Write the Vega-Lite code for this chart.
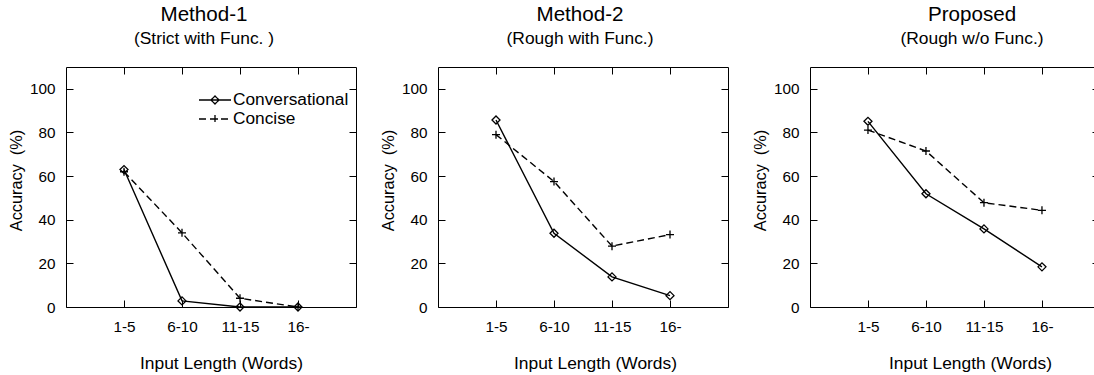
{
  "$schema": "https://vega.github.io/schema/vega-lite/v6.json",
  "background": "white",
  "padding": {"left": 7, "top": 4, "right": 0, "bottom": 0},
  "spacing": 82,
  "bounds": "flush",
  "config": {
    "font": "Liberation Sans",
    "view": {"stroke": "black", "strokeWidth": 1},
    "axis": {
      "grid": false,
      "domain": false,
      "ticks": true,
      "tickColor": "black",
      "tickWidth": 1,
      "tickSize": 7,
      "offset": -7,
      "labelFont": "Liberation Sans",
      "labelFontSize": 15.3,
      "labelColor": "black",
      "titleFont": "Liberation Sans",
      "titleFontWeight": "normal",
      "titleColor": "black"
    },
    "title": {
      "font": "Liberation Sans",
      "fontSize": 20.6,
      "fontWeight": "normal",
      "color": "black",
      "subtitleFont": "Liberation Sans",
      "subtitleFontSize": 17.4,
      "subtitleColor": "black",
      "anchor": "middle",
      "offset": 19,
      "subtitlePadding": 5
    }
  },
  "datasets": {
    "acc": [
      {"panel": "Method-1", "len": "1-5", "series": "Conversational", "acc": 63},
      {"panel": "Method-1", "len": "6-10", "series": "Conversational", "acc": 2.8},
      {"panel": "Method-1", "len": "11-15", "series": "Conversational", "acc": 0},
      {"panel": "Method-1", "len": "16-", "series": "Conversational", "acc": 0},
      {"panel": "Method-1", "len": "1-5", "series": "Concise", "acc": 62},
      {"panel": "Method-1", "len": "6-10", "series": "Concise", "acc": 34},
      {"panel": "Method-1", "len": "11-15", "series": "Concise", "acc": 4},
      {"panel": "Method-1", "len": "16-", "series": "Concise", "acc": 0},
      {"panel": "Method-2", "len": "1-5", "series": "Conversational", "acc": 85.7},
      {"panel": "Method-2", "len": "6-10", "series": "Conversational", "acc": 33.8},
      {"panel": "Method-2", "len": "11-15", "series": "Conversational", "acc": 13.8},
      {"panel": "Method-2", "len": "16-", "series": "Conversational", "acc": 5.2},
      {"panel": "Method-2", "len": "1-5", "series": "Concise", "acc": 79},
      {"panel": "Method-2", "len": "6-10", "series": "Concise", "acc": 57.5},
      {"panel": "Method-2", "len": "11-15", "series": "Concise", "acc": 27.9},
      {"panel": "Method-2", "len": "16-", "series": "Concise", "acc": 33.2},
      {"panel": "Proposed", "len": "1-5", "series": "Conversational", "acc": 85.1},
      {"panel": "Proposed", "len": "6-10", "series": "Conversational", "acc": 51.9},
      {"panel": "Proposed", "len": "11-15", "series": "Conversational", "acc": 35.8},
      {"panel": "Proposed", "len": "16-", "series": "Conversational", "acc": 18.4},
      {"panel": "Proposed", "len": "1-5", "series": "Concise", "acc": 81.1},
      {"panel": "Proposed", "len": "6-10", "series": "Concise", "acc": 71.5},
      {"panel": "Proposed", "len": "11-15", "series": "Concise", "acc": 47.8},
      {"panel": "Proposed", "len": "16-", "series": "Concise", "acc": 44.3}
    ]
  },
  "resolve": {"scale": {"shape": "independent", "strokeDash": "independent"}},
  "hconcat": [
    {
      "width": 290,
      "height": 240,
      "data": {"name": "acc"},
      "transform": [{"filter": "datum.panel === 'Method-1'"}],
      "title": {"text": "Method-1", "subtitle": "(Strict with Func. )", "dx": -7},
      "resolve": {"axis": {"x": "independent", "y": "independent"}},
      "layer": [
        {
          "transform": [{"filter": "datum.series === 'Conversational'"}],
          "mark": {"type": "line", "stroke": "black", "strokeWidth": 1.4},
          "encoding": {
            "x": {"field": "len", "type": "ordinal", "scale": {"type": "point", "domain": ["1-5", "6-10", "11-15", "16-"], "padding": 1},
                  "axis": {"orient": "bottom", "labelAngle": 0, "labelPadding": 12, "title": "Input Length (Words)", "titleFontSize": 17.4, "titlePadding": 20, "titleX": 155}},
            "y": {"field": "acc", "type": "quantitative", "scale": {"domain": [0, 110], "nice": false},
                  "axis": {"orient": "left", "values": [0, 20, 40, 60, 80, 100], "labelPadding": 11, "title": "Accuracy \u00a0(%)", "titleFontSize": 16.3, "titlePadding": 5, "titleY": 113}}
          }
        },
        {
          "transform": [{"filter": "datum.series === 'Concise'"}],
          "mark": {"type": "line", "stroke": "black", "strokeWidth": 1.4, "strokeDash": [7, 4]},
          "encoding": {
            "x": {"field": "len", "type": "ordinal", "axis": null},
            "y": {"field": "acc", "type": "quantitative", "axis": null}
          }
        },
        {
          "transform": [{"filter": "datum.series === 'Conversational'"}],
          "mark": {"type": "point", "shape": "diamond", "size": 64, "filled": false, "color": "black", "stroke": "black", "strokeWidth": 1.3, "opacity": 1},
          "encoding": {
            "x": {"field": "len", "type": "ordinal", "axis": null},
            "y": {"field": "acc", "type": "quantitative", "axis": null}
          }
        },
        {
          "transform": [{"filter": "datum.series === 'Concise'"}],
          "mark": {"type": "point", "shape": "M-1,0H1M0,-1V1", "size": 64, "filled": false, "color": "black", "stroke": "black", "strokeWidth": 1.3, "opacity": 1},
          "encoding": {
            "x": {"field": "len", "type": "ordinal", "axis": null},
            "y": {"field": "acc", "type": "quantitative", "axis": null}
          }
        },
        {
          "mark": {"type": "point", "filled": false, "color": "black", "opacity": 0},
          "encoding": {
            "x": {"field": "len", "type": "ordinal", "axis": {"orient": "top", "labels": false, "title": null}},
            "y": {"field": "acc", "type": "quantitative", "axis": {"orient": "right", "labels": false, "title": null, "values": [0, 20, 40, 60, 80, 100]}},
            "shape": {"field": "series", "type": "nominal",
                      "scale": {"domain": ["Conversational", "Concise"], "range": ["M-2,0H2M0,-0.5L0.5,0L0,0.5L-0.5,0Z", "M-2,0H2M0,-0.5V0.5M-0.5,0H0.5"]},
                      "legend": {"title": null, "orient": "none", "legendX": 140, "legendY": 24, "symbolSize": 256, "symbolStrokeColor": "black", "symbolStrokeWidth": 1.3, "symbolOpacity": 1, "symbolFillColor": "transparent", "labelFont": "Liberation Sans", "labelFontSize": 17.3, "labelColor": "black", "labelOffset": 9, "rowPadding": 1, "padding": 0}},
            "strokeDash": {"field": "series", "type": "nominal", "scale": {"domain": ["Conversational", "Concise"], "range": [[1, 0], [7, 4]]},
                      "legend": {"title": null, "orient": "none", "legendX": 140, "legendY": 24, "symbolSize": 256, "symbolStrokeColor": "black", "symbolStrokeWidth": 1.3, "symbolOpacity": 1, "symbolFillColor": "transparent", "labelFont": "Liberation Sans", "labelFontSize": 17.3, "labelColor": "black", "labelOffset": 9, "rowPadding": 1, "padding": 0}}
          }
        }
      ]
    },
    {
      "width": 290,
      "height": 240,
      "data": {"name": "acc"},
      "transform": [{"filter": "datum.panel === 'Method-2'"}],
      "title": {"text": "Method-2", "subtitle": "(Rough with Func.)", "dx": -3},
      "resolve": {"axis": {"x": "independent", "y": "independent"}},
      "layer": [
        {
          "transform": [{"filter": "datum.series === 'Conversational'"}],
          "mark": {"type": "line", "stroke": "black", "strokeWidth": 1.4},
          "encoding": {
            "x": {"field": "len", "type": "ordinal", "scale": {"type": "point", "domain": ["1-5", "6-10", "11-15", "16-"], "padding": 1},
                  "axis": {"orient": "bottom", "labelAngle": 0, "labelPadding": 12, "title": "Input Length (Words)", "titleFontSize": 17.4, "titlePadding": 20, "titleX": 157}},
            "y": {"field": "acc", "type": "quantitative", "scale": {"domain": [0, 110], "nice": false},
                  "axis": {"orient": "left", "values": [0, 20, 40, 60, 80, 100], "labelPadding": 11, "title": "Accuracy \u00a0(%)", "titleFontSize": 16.3, "titlePadding": 5, "titleY": 113}}
          }
        },
        {
          "transform": [{"filter": "datum.series === 'Concise'"}],
          "mark": {"type": "line", "stroke": "black", "strokeWidth": 1.4, "strokeDash": [7, 4]},
          "encoding": {
            "x": {"field": "len", "type": "ordinal", "axis": null},
            "y": {"field": "acc", "type": "quantitative", "axis": null}
          }
        },
        {
          "transform": [{"filter": "datum.series === 'Conversational'"}],
          "mark": {"type": "point", "shape": "diamond", "size": 64, "filled": false, "color": "black", "stroke": "black", "strokeWidth": 1.3, "opacity": 1},
          "encoding": {
            "x": {"field": "len", "type": "ordinal", "axis": null},
            "y": {"field": "acc", "type": "quantitative", "axis": null}
          }
        },
        {
          "transform": [{"filter": "datum.series === 'Concise'"}],
          "mark": {"type": "point", "shape": "M-1,0H1M0,-1V1", "size": 64, "filled": false, "color": "black", "stroke": "black", "strokeWidth": 1.3, "opacity": 1},
          "encoding": {
            "x": {"field": "len", "type": "ordinal", "axis": null},
            "y": {"field": "acc", "type": "quantitative", "axis": null}
          }
        },
        {
          "mark": {"type": "point", "filled": false, "color": "black", "opacity": 0},
          "encoding": {
            "x": {"field": "len", "type": "ordinal", "axis": {"orient": "top", "labels": false, "title": null}},
            "y": {"field": "acc", "type": "quantitative", "axis": {"orient": "right", "labels": false, "title": null, "values": [0, 20, 40, 60, 80, 100]}}
          }
        }
      ]
    },
    {
      "width": 284,
      "height": 240,
      "view": {"stroke": null},
      "data": {"name": "acc"},
      "transform": [{"filter": "datum.panel === 'Proposed'"}],
      "title": {"text": "Proposed", "subtitle": "(Rough w/o Func.)", "dx": 20},
      "resolve": {"axis": {"x": "independent", "y": "independent"}},
      "layer": [
        {
          "transform": [{"filter": "datum.series === 'Conversational'"}],
          "mark": {"type": "line", "stroke": "black", "strokeWidth": 1.4},
          "encoding": {
            "x": {"field": "len", "type": "ordinal", "scale": {"type": "point", "domain": ["1-5", "6-10", "11-15", "16-"], "padding": 0.9483, "align": 0.527},
                  "axis": {"orient": "bottom", "offset": 0, "tickSize": -7, "domain": true, "domainColor": "black", "domainWidth": 1, "labelAngle": 0, "labelPadding": 19, "title": "Input Length (Words)", "titleFontSize": 17.4, "titlePadding": 20, "titleX": 160}},
            "y": {"field": "acc", "type": "quantitative", "scale": {"domain": [0, 110], "nice": false},
                  "axis": {"orient": "left", "offset": 0, "tickSize": -7, "domain": true, "domainColor": "black", "domainWidth": 1, "values": [0, 20, 40, 60, 80, 100], "labelPadding": 18, "title": "Accuracy \u00a0(%)", "titleFontSize": 16.3, "titlePadding": 5, "titleY": 113}}
          }
        },
        {
          "transform": [{"filter": "datum.series === 'Concise'"}],
          "mark": {"type": "line", "stroke": "black", "strokeWidth": 1.4, "strokeDash": [7, 4]},
          "encoding": {
            "x": {"field": "len", "type": "ordinal", "axis": null},
            "y": {"field": "acc", "type": "quantitative", "axis": null}
          }
        },
        {
          "transform": [{"filter": "datum.series === 'Conversational'"}],
          "mark": {"type": "point", "shape": "diamond", "size": 64, "filled": false, "color": "black", "stroke": "black", "strokeWidth": 1.3, "opacity": 1},
          "encoding": {
            "x": {"field": "len", "type": "ordinal", "axis": null},
            "y": {"field": "acc", "type": "quantitative", "axis": null}
          }
        },
        {
          "transform": [{"filter": "datum.series === 'Concise'"}],
          "mark": {"type": "point", "shape": "M-1,0H1M0,-1V1", "size": 64, "filled": false, "color": "black", "stroke": "black", "strokeWidth": 1.3, "opacity": 1},
          "encoding": {
            "x": {"field": "len", "type": "ordinal", "axis": null},
            "y": {"field": "acc", "type": "quantitative", "axis": null}
          }
        },
        {
          "mark": {"type": "point", "filled": false, "color": "black", "opacity": 0},
          "encoding": {
            "x": {"field": "len", "type": "ordinal", "axis": {"orient": "top", "offset": 0, "tickSize": -7, "domain": true, "domainColor": "black", "domainWidth": 1, "labels": false, "title": null}},
            "y": {"field": "acc", "type": "quantitative", "axis": {"orient": "right", "offset": 0, "tickSize": -2, "labels": false, "title": null, "values": [0, 20, 40, 60, 80, 100]}}
          }
        }
      ]
    }
  ]
}
